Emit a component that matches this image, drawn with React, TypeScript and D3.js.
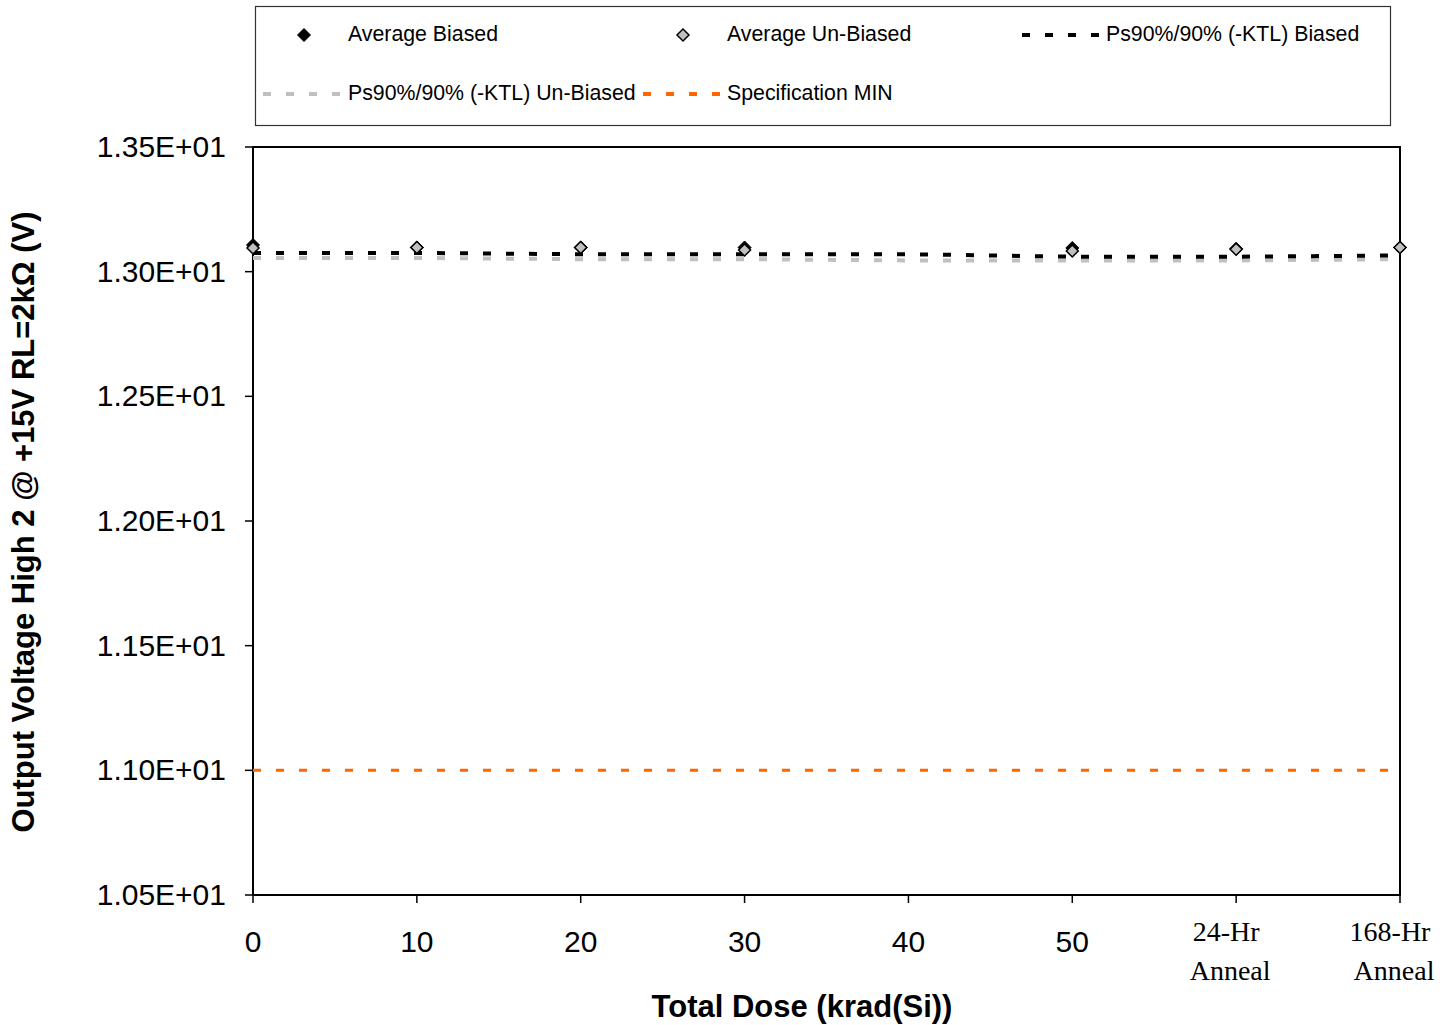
import React from "react";
import * as d3 from "d3";

const categories = ["0", "10", "20", "30", "40", "50", "24-Hr Anneal", "168-Hr Anneal"];
const yTicks = [10.5, 11.0, 11.5, 12.0, 12.5, 13.0, 13.5];

const avgBiasedCats = ["0", "10", "20", "30", "50", "24-Hr Anneal", "168-Hr Anneal"];
const avgBiased = [13.107, 13.097, 13.097, 13.097, 13.095, 13.092, 13.097];
const avgUnbiased = [13.095, 13.097, 13.097, 13.087, 13.083, 13.09, 13.097];

const psBiased = [13.075, 13.075, 13.07, 13.07, 13.07, 13.06, 13.06, 13.065];
const psUnbiased = [13.055, 13.055, 13.05, 13.05, 13.045, 13.045, 13.045, 13.05];
const specMin = [11.0, 11.0, 11.0, 11.0, 11.0, 11.0, 11.0, 11.0];

const W = 1455, H = 1025;
const L = 253, R = 1400, T = 147, B = 895;

export default function App() {
  const x = d3.scalePoint<string>().domain(categories).range([L, R]);
  const y = d3.scaleLinear().domain([10.5, 13.5]).range([B, T]);
  const line = d3
    .line<[string, number]>()
    .x((d) => x(d[0]) as number)
    .y((d) => y(d[1]));
  const zip = (vals: number[]) => categories.map((c, i) => [c, vals[i]] as [string, number]);
  const diamond = (cx: number, cy: number, r: number) =>
    `M${cx},${cy - r}L${cx + r},${cy}L${cx},${cy + r}L${cx - r},${cy}Z`;
  const font = "'Liberation Sans', Arial, sans-serif";
  const serif = "'Liberation Serif', 'Times New Roman', serif";

  return (
    <svg
      width={W}
      height={H}
      style={{ position: "absolute", left: 0, top: 0, background: "#fff" }}
      fontFamily={font}
    >
      <rect x={0} y={0} width={W} height={H} fill="#fff" />
      {/* Legend */}
      <rect x={255.5} y={6.5} width={1135} height={119} fill="#fff" stroke="#333" strokeWidth={1.2} />
      <g fontSize={21.3} fill="#000">
        <path d={diamond(304, 35, 6.5)} fill="#000" stroke="#000" />
        <text x={348} y={41}>Average Biased</text>
        <path d={diamond(683, 35, 6)} fill="#c0c0c0" stroke="#000" strokeWidth={1.5} />
        <text x={727} y={41}>Average Un-Biased</text>
        <line x1={1022} x2={1102} y1={35} y2={35} stroke="#000" strokeWidth={4} strokeDasharray="8,15" />
        <text x={1106} y={41}>Ps90%/90% (-KTL) Biased</text>
        <line x1={263} x2={345} y1={94} y2={94} stroke="#c0c0c0" strokeWidth={4} strokeDasharray="8,15" />
        <text x={348} y={100}>Ps90%/90% (-KTL) Un-Biased</text>
        <line x1={643} x2={725} y1={94} y2={94} stroke="#ff6600" strokeWidth={4} strokeDasharray="8,15" />
        <text x={727} y={100}>Specification MIN</text>
      </g>

      {/* Plot frame */}
      <rect x={L} y={T} width={R - L} height={B - T} fill="none" stroke="#000" strokeWidth={2} />

      {/* Y ticks */}
      {yTicks.map((t) => (
        <g key={t}>
          <line x1={L - 8} x2={L} y1={y(t)} y2={y(t)} stroke="#000" strokeWidth={1.5} />
          <text x={226} y={y(t) + 10} textAnchor="end" fontSize={30}>
            {(t / 10).toFixed(2) + "E+01"}
          </text>
        </g>
      ))}

      {/* X ticks */}
      {categories.map((c) => {
        const cx = x(c) as number;
        const parts = c.split(" ");
        return (
          <g key={c}>
            <line x1={cx} x2={cx} y1={B} y2={B + 8} stroke="#000" strokeWidth={1.5} />
            {parts.length === 1 ? (
              <text x={cx} y={952} textAnchor="middle" fontSize={30}>
                {c}
              </text>
            ) : (
              <text textAnchor="middle" fontFamily={serif} fontSize={28}>
                <tspan x={cx - 10} y={941}>{parts[0]}</tspan>
                <tspan x={cx - 6} y={980}>{parts[1]}</tspan>
              </text>
            )}
          </g>
        );
      })}

      {/* Lines */}
      <path d={line(zip(psUnbiased)) || ""} fill="none" stroke="#c0c0c0" strokeWidth={4} strokeDasharray="8,15" />
      <path d={line(zip(psBiased)) || ""} fill="none" stroke="#000" strokeWidth={4} strokeDasharray="8,15" />
      <path d={line(zip(specMin)) || ""} fill="none" stroke="#ff6600" strokeWidth={3} strokeDasharray="8,15" />

      {/* Markers */}
      {avgBiasedCats.map((c, i) => (
        <path key={"b" + c} d={diamond(x(c) as number, y(avgBiased[i]), 6.5)} fill="#000" stroke="#000" />
      ))}
      {avgBiasedCats.map((c, i) => (
        <path
          key={"u" + c}
          d={diamond(x(c) as number, y(avgUnbiased[i]), 6)}
          fill="#c0c0c0"
          stroke="#000"
          strokeWidth={1.5}
        />
      ))}

      {/* Axis titles */}
      <text x={802} y={1017} textAnchor="middle" fontSize={31} fontWeight="bold">
        Total Dose (krad(Si))
      </text>
      <text
        transform={`translate(34,522) rotate(-90)`}
        textAnchor="middle"
        fontSize={31}
        fontWeight="bold"
      >
        Output Voltage High 2 @ +15V RL=2kΩ (V)
      </text>
    </svg>
  );
}
